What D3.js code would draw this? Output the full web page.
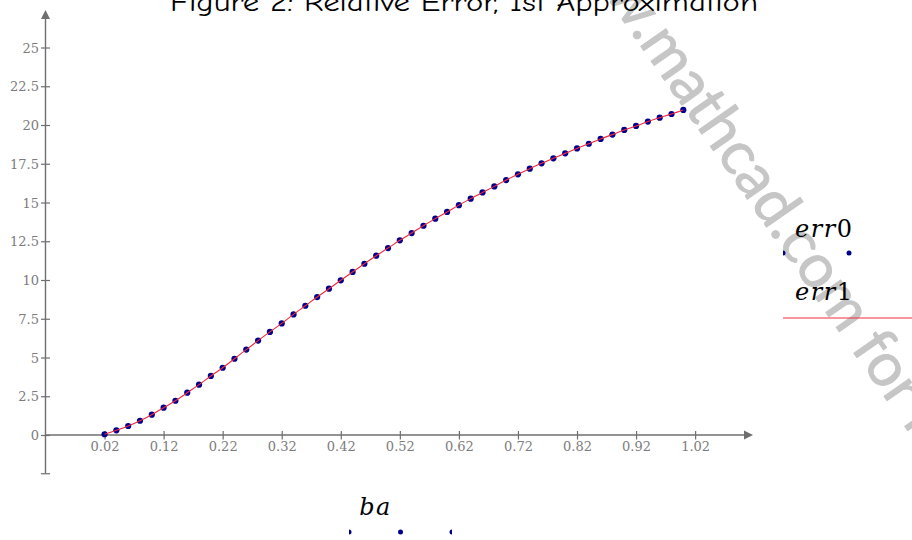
<!DOCTYPE html>
<html>
<head>
<meta charset="utf-8">
<script src="https://cdn.jsdelivr.net/npm/d3@7"></script>
<style>
html,body{margin:0;padding:0;background:#fff;}
svg{display:block;}
</style>
</head>
<body>
<svg id="chart" width="912" height="540"></svg>
<script>
// ---------- data ----------
const title = "Figure 2: Relative Error, 1st Approximation";
const ba = [0.02,0.04,0.06,0.08,0.10,0.12,0.14,0.16,0.18,0.20,
            0.22,0.24,0.26,0.28,0.30,0.32,0.34,0.36,0.38,0.40,
            0.42,0.44,0.46,0.48,0.50,0.52,0.54,0.56,0.58,0.60,
            0.62,0.64,0.66,0.68,0.70,0.72,0.74,0.76,0.78,0.80,
            0.82,0.84,0.86,0.88,0.90,0.92,0.94,0.96,0.98,1.00];
const err0 = [0.05,0.30,0.58,0.92,1.31,1.76,2.21,2.73,3.25,3.81,
              4.34,4.92,5.51,6.09,6.65,7.20,7.78,8.34,8.90,9.44,
              9.98,10.52,11.05,11.57,12.06,12.56,13.03,13.50,13.96,14.39,
              14.83,15.25,15.65,16.04,16.45,16.82,17.18,17.53,17.85,18.17,
              18.49,18.79,19.10,19.38,19.68,19.94,20.22,20.47,20.71,20.97];
const err1 = [0.05,0.30,0.58,0.92,1.31,1.76,2.21,2.73,3.25,3.81,
              4.34,4.92,5.51,6.09,6.65,7.20,7.78,8.34,8.90,9.44,
              9.98,10.52,11.05,11.57,12.06,12.56,13.03,13.50,13.96,14.39,
              14.83,15.25,15.65,16.04,16.45,16.82,17.18,17.53,17.85,18.17,
              18.49,18.79,19.10,19.38,19.68,19.94,20.22,20.47,20.71,20.97];
const xTickLabels = ["0.02","0.12","0.22","0.32","0.42","0.52","0.62","0.72","0.82","0.92","1.02"];
const yTickLabels = ["0","2.5","5","7.5","10","12.5","15","17.5","20","22.5","25"];
const xDomain = [-0.08, 1.118];
const yDomain = [-2.5, 27.42];
const watermark = "www.mathcad.com for more information";

// ---------- setup ----------
const svg = d3.select("#chart");
const axisColor = "#6f6f6f";
const labelColor = "#7c7c7c";
const dotColor = "#00008c";
const lineColor = "#f5283c";

const x = d3.scaleLinear().domain(xDomain).range([45.5, 753]);
const y = d3.scaleLinear().domain(yDomain).range([473.75, 10]);

// ---------- watermark (behind) ----------
(function(){
  const fs0 = 100;
  const fam = "Lato, 'Noto Sans', sans-serif";
  const tmp = svg.append("text").attr("font-family",fam).attr("font-size",fs0);
  const wPrefix = tmp.text("www").node().getComputedTextLength();
  const wDot = tmp.text(".").node().getComputedTextLength();
  const wMid = tmp.text("mathcad").node().getComputedTextLength();
  tmp.remove();
  const p1 = [635, 38], p2 = [768, 233];
  const dist = Math.hypot(p2[0]-p1[0], p2[1]-p1[1]);
  const fs = 1.03 * fs0 * dist / (wMid + wDot);
  const ang = Math.atan2(p2[1]-p1[1], p2[0]-p1[0]) * 180 / Math.PI - 0.5;
  const offset = (wPrefix + wDot/2) * fs / fs0;
  svg.append("text")
    .attr("transform", `translate(${p1[0]},${p1[1]}) rotate(${ang})`)
    .attr("x", -offset).attr("y", 0)
    .attr("font-family",fam)
    .attr("font-size", fs)
    .attr("fill","#c6c6c6")
    .attr("stroke","#c6c6c6")
    .attr("stroke-width",0.9)
    .attr("stroke-linejoin","round")
    .text(watermark);
})();

// ---------- title ----------
svg.append("text")
  .attr("x", 464).attr("y", 11)
  .attr("text-anchor","middle")
  .attr("font-family","'Comic Sans MS','Comic Neue',Lato,sans-serif")
  .attr("font-size", 27)
  .attr("textLength", 588)
  .attr("lengthAdjust","spacingAndGlyphs")
  .attr("fill","#000")
  .text(title);

// ---------- axes ----------
const gx = svg.append("g").attr("transform", `translate(0,${y(0)})`);
gx.call(d3.axisBottom(x).tickValues(xTickLabels.map(Number)).tickFormat(d3.format(".2f")).tickSize(0).tickPadding(0));
gx.select(".domain").remove();
gx.selectAll(".tick line").attr("y1",-4).attr("y2",4.5).attr("stroke",axisColor).attr("stroke-width",1.2);
gx.selectAll(".tick text").attr("y",16).attr("dy",0)
  .attr("font-family","'DejaVu Serif', serif").attr("font-size",13).attr("fill",labelColor);
gx.append("line").attr("x1",x(xDomain[0])).attr("x2",x(xDomain[1])-8).attr("y1",0).attr("y2",0)
  .attr("stroke",axisColor).attr("stroke-width",1.4);
gx.append("path")
  .attr("d", `M${x(xDomain[1])},0 L${x(xDomain[1])-9},-4.5 L${x(xDomain[1])-9},4.5 Z`)
  .attr("fill",axisColor);

const gy = svg.append("g").attr("transform", `translate(${x(xDomain[0])},0)`);
gy.call(d3.axisLeft(y).tickValues(yTickLabels.map(Number)).tickFormat((d,i)=>yTickLabels[i]).tickSize(0).tickPadding(0));
gy.select(".domain").remove();
gy.selectAll(".tick line").attr("x1",-4.5).attr("x2",4.5).attr("stroke",axisColor).attr("stroke-width",1.2);
gy.selectAll(".tick text").attr("x",-6.5).attr("dy","0.36em")
  .attr("font-family","'DejaVu Serif', serif").attr("font-size",13).attr("fill",labelColor);
gy.append("line").attr("x1",0).attr("x2",0).attr("y1",y(yDomain[0])).attr("y2",y(yDomain[1])+8)
  .attr("stroke",axisColor).attr("stroke-width",1.4);
gy.append("line").attr("x1",-4.5).attr("x2",4.5).attr("y1",y(yDomain[0])).attr("y2",y(yDomain[0]))
  .attr("stroke",axisColor).attr("stroke-width",1.2);
gy.append("path")
  .attr("d", `M0,${y(yDomain[1])} L-4.5,${y(yDomain[1])+9} L4.5,${y(yDomain[1])+9} Z`)
  .attr("fill",axisColor);

// ---------- series ----------
svg.append("g").selectAll("circle").data(ba).join("circle")
  .attr("cx", d => x(d))
  .attr("cy", (d,i) => y(err0[i]))
  .attr("r", 3.1)
  .attr("fill", dotColor);

svg.append("path")
  .datum(ba)
  .attr("d", d3.line().x(d => x(d)).y((d,i) => y(err1[i])).curve(d3.curveMonotoneX))
  .attr("fill","none")
  .attr("stroke", lineColor)
  .attr("stroke-width", 1.1);

// ---------- legends ----------
const defs = svg.append("defs");
defs.append("clipPath").attr("id","clipR").append("rect").attr("x",783).attr("y",240).attr("width",140).attr("height",90);
defs.append("clipPath").attr("id","clipB").append("rect").attr("x",349).attr("y",520).attr("width",103).attr("height",20);

function mathLabel(xp, yp, name, sub, anchor){
  const t = svg.append("text").attr("x",xp).attr("y",yp)
    .attr("font-family","'DejaVu Serif', serif").attr("font-size",24).attr("fill","#000")
    .attr("text-anchor",anchor).attr("letter-spacing",1.5);
  t.append("tspan").attr("font-style","italic").text(name);
  if (sub) t.append("tspan").text(sub);
}
mathLabel(795, 237, "err", "0", "start");
mathLabel(795, 300, "err", "1", "start");
mathLabel(375.5, 515, "ba", "", "middle");

const legDotsR = [783, 849, 915];
svg.append("g").attr("clip-path","url(#clipR)").selectAll("circle").data(legDotsR).join("circle")
  .attr("cx", d=>d).attr("cy",253).attr("r",2.5).attr("fill",dotColor);
svg.append("line").attr("x1",783).attr("x2",912).attr("y1",318).attr("y2",318)
  .attr("stroke",lineColor).attr("stroke-width",1.2);

const legDotsB = [349, 400.5, 452];
svg.append("g").attr("clip-path","url(#clipB)").selectAll("circle").data(legDotsB).join("circle")
  .attr("cx", d=>d).attr("cy",532).attr("r",2.5).attr("fill",dotColor);
</script>
</body>
</html>
